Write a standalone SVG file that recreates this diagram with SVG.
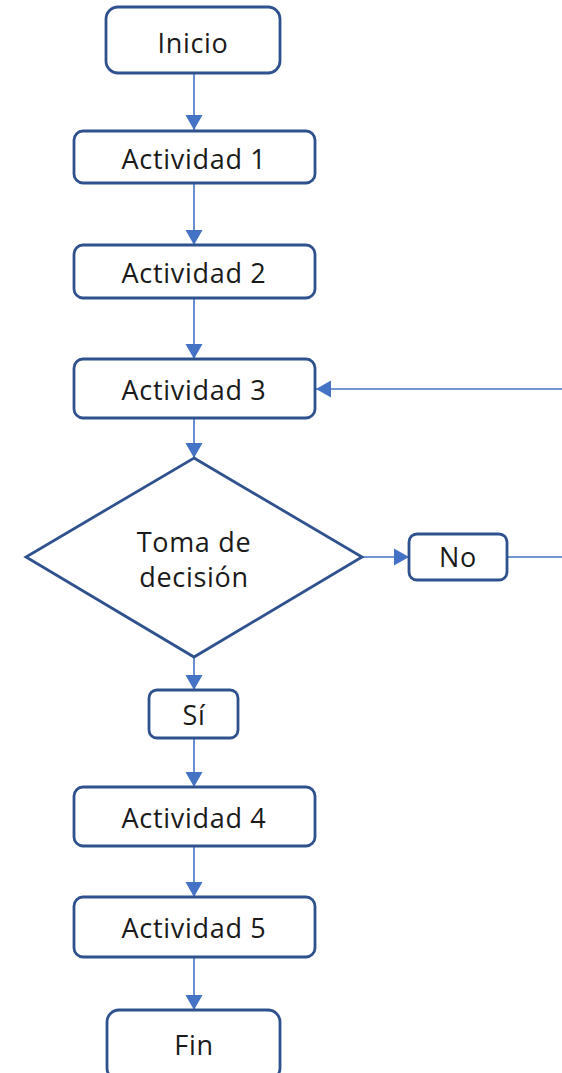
<svg xmlns="http://www.w3.org/2000/svg" width="562" height="1073" viewBox="0 0 562 1073">
<defs>
<style>
.box{fill:#fff;stroke:#2F528F;stroke-width:2.8}
.lbl{font-family:"Open Sans","Liberation Sans",sans-serif;font-size:27px;letter-spacing:0.7px;fill:#1a1a1a;text-anchor:middle;dominant-baseline:central}
.con{stroke:#4472C4;stroke-width:1.6;fill:none}
</style>
<marker id="ah" markerUnits="userSpaceOnUse" markerWidth="16" markerHeight="18" viewBox="0 0 16 18" refX="15" refY="9" orient="auto">
<path d="M0,0.5 L15,9 L0,17.5 Z" fill="#4472C4"/>
</marker>
</defs>
<rect width="562" height="1073" fill="#fff"/>
<g id="connectors">
<line class="con" x1="194" y1="73" x2="194" y2="130" marker-end="url(#ah)"/>
<line class="con" x1="194" y1="183" x2="194" y2="245" marker-end="url(#ah)"/>
<line class="con" x1="194" y1="298" x2="194" y2="359" marker-end="url(#ah)"/>
<line class="con" x1="194" y1="418" x2="194" y2="458" marker-end="url(#ah)"/>
<line class="con" x1="362" y1="557" x2="409" y2="557" marker-end="url(#ah)"/>
<line class="con" x1="507" y1="557" x2="562" y2="557" stroke="#8FAADC"/>
<line class="con" x1="562" y1="389" x2="316" y2="389" marker-end="url(#ah)"/>
<line class="con" x1="194" y1="657" x2="194" y2="690" marker-end="url(#ah)"/>
<line class="con" x1="194" y1="738" x2="194" y2="787" marker-end="url(#ah)"/>
<line class="con" x1="194" y1="846" x2="194" y2="897" marker-end="url(#ah)"/>
<line class="con" x1="194" y1="957" x2="194" y2="1010" marker-end="url(#ah)"/>
</g>
<g id="inicio"><rect class="box" x="106" y="7" width="174" height="66" rx="12"/><text class="lbl" x="193" y="42">Inicio</text></g>
<g id="act1"><rect class="box" x="74" y="131" width="241" height="52" rx="9"/><text class="lbl" x="194" y="158">Actividad 1</text></g>
<g id="act2"><rect class="box" x="74" y="245" width="241" height="53" rx="9"/><text class="lbl" x="194" y="272">Actividad 2</text></g>
<g id="act3"><rect class="box" x="74" y="359" width="241" height="59" rx="9"/><text class="lbl" x="194" y="389">Actividad 3</text></g>
<g id="decision"><polygon class="box" points="194,458 362,557 194,657 26,557"/><text class="lbl" x="194" y="541">Toma de</text><text class="lbl" x="194" y="576">decisión</text></g>
<g id="no"><rect class="box" x="409" y="534" width="98" height="46" rx="8"/><text class="lbl" x="458" y="556">No</text></g>
<g id="si"><rect class="box" x="149" y="690" width="89" height="48" rx="8"/><text class="lbl" x="194" y="714">Sí</text></g>
<g id="act4"><rect class="box" x="74" y="787" width="241" height="59" rx="9"/><text class="lbl" x="194" y="817">Actividad 4</text></g>
<g id="act5"><rect class="box" x="74" y="897" width="241" height="60" rx="9"/><text class="lbl" x="194" y="927">Actividad 5</text></g>
<g id="fin"><rect class="box" x="107" y="1010" width="173" height="70" rx="12"/><text class="lbl" x="194" y="1044">Fin</text></g>
</svg>
